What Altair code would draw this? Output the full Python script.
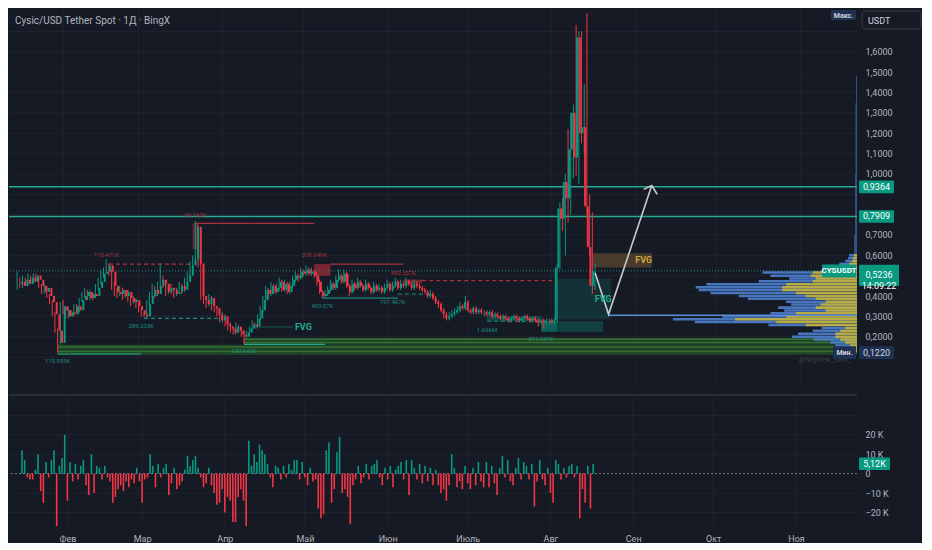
import altair as alt
import pandas as pd

# ---------------- style constants ----------------
BG = "#161a25"
GRID = "#20242f"
UP = "#089981"
DOWN = "#f23645"
TEAL = "#22ab94"
TEAL_D = "#1b8a7e"
RED_ANN = "#a8323d"
LABEL = "#b2b5be"
FONT = "Roboto"
W, H1, H2 = 848, 378, 128

# ---------------- data ----------------
title_text = "Cysic/USD Tether Spot · 1Д · BingX"
month_names = ["Янв", "Фев", "Мар", "Апр", "Май", "Июн", "Июль", "Авг", "Сен", "Окт", "Ноя", "Дек"]
month_ticks = ["2025-02-01", "2025-03-01", "2025-04-01", "2025-05-01", "2025-06-01",
               "2025-07-01", "2025-08-01", "2025-09-01", "2025-10-01", "2025-11-01"]
price_labels = [0.2, 0.3, 0.4, 0.6, 0.7, 1.0, 1.1, 1.2, 1.3, 1.4, 1.5, 1.6]
price_grid = [0.1, 0.2, 0.3, 0.4, 0.5, 0.6, 0.7, 0.8, 0.9, 1.0, 1.1, 1.2, 1.3, 1.4, 1.5, 1.6, 1.7]
delta_labels = [-20, -10, 0, 10, 20]
delta_grid = [-20, -10, 10, 20, 30]

first_day = "2025-01-15"
open_first = 0.46
close = [
    0.47, 0.45, 0.48, 0.46, 0.49, 0.47, 0.50, 0.48, 0.45, 0.42,
    0.44, 0.40, 0.37, 0.31, 0.23, 0.17, 0.35, 0.33, 0.30, 0.32,
    0.31, 0.35, 0.33, 0.38, 0.40, 0.42, 0.39, 0.41, 0.40, 0.44,
    0.47, 0.51, 0.52, 0.55, 0.52, 0.45, 0.42, 0.41, 0.43, 0.40,
    0.42, 0.39, 0.37, 0.38, 0.35, 0.33, 0.31, 0.30, 0.36, 0.40,
    0.43, 0.41, 0.45, 0.48, 0.46, 0.42, 0.44, 0.43, 0.41, 0.42,
    0.45, 0.43, 0.47, 0.50, 0.55, 0.58, 0.74, 0.56, 0.40, 0.38,
    0.36, 0.39, 0.35, 0.34, 0.31, 0.28, 0.30, 0.26, 0.25, 0.24,
    0.22, 0.25, 0.23, 0.21, 0.20, 0.22, 0.24, 0.26, 0.25, 0.29,
    0.33, 0.38, 0.43, 0.41, 0.45, 0.42, 0.44, 0.47, 0.43, 0.46,
    0.42, 0.45, 0.48, 0.50, 0.49, 0.52, 0.51, 0.53, 0.51, 0.52,
    0.50, 0.47, 0.42, 0.40, 0.41, 0.43, 0.46, 0.44, 0.48, 0.50,
    0.47, 0.51, 0.45, 0.42, 0.46, 0.44, 0.47, 0.45, 0.43, 0.46,
    0.44, 0.42, 0.45, 0.43, 0.44, 0.42, 0.44, 0.46, 0.43, 0.45,
    0.47, 0.44, 0.46, 0.45, 0.47, 0.46, 0.44, 0.46, 0.45, 0.44,
    0.43, 0.42, 0.40, 0.41, 0.39, 0.37, 0.36, 0.33, 0.31, 0.29,
    0.30, 0.31, 0.32, 0.33, 0.35, 0.34, 0.37, 0.33, 0.32, 0.34,
    0.32, 0.33, 0.32, 0.32, 0.31, 0.32, 0.30, 0.31, 0.30, 0.29,
    0.30, 0.29, 0.28, 0.29, 0.30, 0.29, 0.28, 0.29, 0.30, 0.29,
    0.28, 0.29, 0.28, 0.27, 0.28, 0.27, 0.28, 0.28, 0.27, 0.28,
    0.54, 0.83, 0.78, 0.96, 0.88, 1.12, 1.30, 1.08, 1.67, 1.20,
    1.23, 0.84, 0.64, 0.45, 0.5236,
]
high = [
    0.52, 0.49, 0.50, 0.49, 0.51, 0.50, 0.51, 0.51, 0.49, 0.46,
    0.46, 0.45, 0.41, 0.38, 0.32, 0.24, 0.37, 0.38, 0.34, 0.34,
    0.33, 0.36, 0.36, 0.39, 0.42, 0.44, 0.43, 0.43, 0.42, 0.46,
    0.49, 0.53, 0.54, 0.58, 0.56, 0.53, 0.47, 0.44, 0.45, 0.44,
    0.43, 0.43, 0.40, 0.40, 0.39, 0.36, 0.34, 0.32, 0.38, 0.42,
    0.46, 0.45, 0.47, 0.56, 0.50, 0.47, 0.46, 0.46, 0.44, 0.44,
    0.47, 0.46, 0.49, 0.52, 0.57, 0.60, 0.77, 0.75, 0.58, 0.42,
    0.40, 0.41, 0.40, 0.37, 0.35, 0.32, 0.32, 0.31, 0.28, 0.27,
    0.25, 0.27, 0.26, 0.24, 0.23, 0.23, 0.25, 0.28, 0.27, 0.31,
    0.35, 0.40, 0.45, 0.44, 0.47, 0.46, 0.46, 0.49, 0.48, 0.48,
    0.47, 0.47, 0.50, 0.52, 0.51, 0.54, 0.53, 0.55, 0.54, 0.54,
    0.53, 0.51, 0.48, 0.43, 0.43, 0.45, 0.48, 0.47, 0.50, 0.53,
    0.51, 0.53, 0.52, 0.46, 0.48, 0.47, 0.49, 0.48, 0.46, 0.48,
    0.47, 0.45, 0.47, 0.46, 0.46, 0.45, 0.46, 0.48, 0.47, 0.47,
    0.49, 0.48, 0.48, 0.47, 0.49, 0.48, 0.47, 0.48, 0.47, 0.46,
    0.45, 0.44, 0.43, 0.43, 0.42, 0.40, 0.38, 0.37, 0.34, 0.32,
    0.32, 0.33, 0.34, 0.35, 0.37, 0.36, 0.40, 0.38, 0.34, 0.35,
    0.35, 0.34, 0.34, 0.33, 0.33, 0.33, 0.33, 0.32, 0.32, 0.31,
    0.31, 0.31, 0.30, 0.30, 0.31, 0.31, 0.30, 0.30, 0.31, 0.31,
    0.30, 0.30, 0.30, 0.29, 0.29, 0.29, 0.29, 0.29, 0.29, 0.29,
    0.56, 0.86, 0.88, 1.00, 1.22, 1.30, 1.34, 1.73, 1.70, 1.70,
    1.44, 1.79, 0.90, 0.81, 0.56,
]
low = [
    0.43, 0.44, 0.44, 0.45, 0.45, 0.46, 0.46, 0.47, 0.44, 0.41,
    0.41, 0.39, 0.36, 0.30, 0.22, 0.122, 0.16, 0.31, 0.29, 0.29,
    0.30, 0.30, 0.32, 0.32, 0.37, 0.39, 0.38, 0.38, 0.38, 0.39,
    0.43, 0.46, 0.49, 0.51, 0.50, 0.43, 0.40, 0.39, 0.40, 0.38,
    0.39, 0.37, 0.35, 0.36, 0.34, 0.32, 0.30, 0.295, 0.29, 0.35,
    0.39, 0.39, 0.40, 0.44, 0.44, 0.40, 0.41, 0.41, 0.39, 0.40,
    0.41, 0.41, 0.42, 0.46, 0.49, 0.54, 0.57, 0.54, 0.38, 0.36,
    0.34, 0.35, 0.33, 0.32, 0.30, 0.27, 0.27, 0.25, 0.23, 0.22,
    0.21, 0.21, 0.22, 0.20, 0.165, 0.19, 0.21, 0.23, 0.24, 0.24,
    0.28, 0.32, 0.37, 0.39, 0.40, 0.41, 0.41, 0.43, 0.42, 0.42,
    0.41, 0.41, 0.44, 0.47, 0.47, 0.48, 0.50, 0.50, 0.50, 0.50,
    0.49, 0.45, 0.41, 0.39, 0.39, 0.40, 0.42, 0.43, 0.43, 0.47,
    0.46, 0.46, 0.44, 0.40, 0.41, 0.43, 0.43, 0.44, 0.42, 0.42,
    0.43, 0.41, 0.41, 0.42, 0.42, 0.41, 0.41, 0.43, 0.42, 0.42,
    0.44, 0.43, 0.43, 0.44, 0.44, 0.45, 0.43, 0.43, 0.44, 0.43,
    0.42, 0.41, 0.39, 0.39, 0.38, 0.36, 0.34, 0.32, 0.29, 0.28,
    0.28, 0.29, 0.30, 0.31, 0.32, 0.33, 0.33, 0.32, 0.31, 0.31,
    0.31, 0.31, 0.31, 0.30, 0.30, 0.30, 0.29, 0.29, 0.29, 0.28,
    0.28, 0.28, 0.27, 0.27, 0.28, 0.28, 0.27, 0.27, 0.28, 0.28,
    0.27, 0.27, 0.27, 0.25, 0.26, 0.24, 0.26, 0.26, 0.26, 0.26,
    0.27, 0.53, 0.72, 0.60, 0.76, 0.80, 0.98, 0.99, 0.95, 1.15,
    1.10, 0.80, 0.60, 0.41, 0.43,
]
delta_k = [
    12, 7, -2, -3, -3, 2, 10, -9, -15, 6,
    -2, 7, 12, -27, 4, 8, 20, -14, 6, -4,
    5, -3, 4, 7, -6, -11, 10, -10, 4, 3,
    -3, 4, -2, -4, -15, -12, -8, -6, -9, -4,
    -7, -3, -5, 3, -4, -15, -3, -2, 10, 4,
    -7, 5, -2, 3, 5, -11, -5, 3, -8, -6,
    -4, 2, 9, 4, 7, 9, 3, -2, -7, -5,
    3, -6, -10, -16, -15, -8, -20, -12, -14, -25,
    -25, -12, -8, -14, -27, 17, 4, 10, 6, 15,
    12, 10, 5, -2, -7, 4, 3, -3, 4, -2,
    5, 2, 7, 7, -3, 6, -2, -6, 3, -4,
    -3, -18, -23, -21, 12, 16, -15, -8, 11, 19,
    -10, -8, -12, -26, -6, -3, 4, -5, -2, 5,
    -3, 4, 5, 7, -2, -6, 3, -3, 4, -7,
    2, 4, 6, -3, 7, -11, 7, 3, -3, 5,
    -5, 4, -4, 3, -6, 2, -6, -10, -8, -14,
    -6, 10, 3, -7, -4, -8, 4, -5, -8, 3,
    -6, 6, -4, -7, 6, -7, 4, -5, -11, 3,
    9, -2, 7, -4, -6, 3, 8, -3, 6, 4,
    -3, 5, -17, -4, 7, -3, -6, 3, -10, -15,
    7, 5, -3, 3, -2, 4, 5, -2, 4, -23,
    -8, -15, 4, -18, 5.12,
]

# volume profile (row centre price, total volume, buy volume) in K units
vp_price = [0.129, 0.143, 0.157, 0.172, 0.186, 0.200, 0.215, 0.229, 0.243, 0.258,
            0.272, 0.286, 0.300, 0.315, 0.329, 0.343, 0.358, 0.372, 0.386, 0.400,
            0.415, 0.429, 0.443, 0.458, 0.472, 0.486, 0.500, 0.515, 0.529, 0.543,
            0.558, 0.572, 0.586, 0.600]
vp_total = [8, 17, 22, 27, 44, 66, 60, 45, 36, 90,
            165, 187, 137, 88, 74, 80, 67, 72, 111, 120,
            149, 161, 164, 153, 100, 69, 88, 96, 30, 22,
            18, 12, 9, 8]
vp_buy = [3, 6, 7, 12, 17, 22, 22, 17, 12, 52,
          82, 124, 72, 62, 32, 42, 37, 32, 42, 52,
          62, 76, 76, 72, 45, 42, 47, 45, 12, 8,
          8, 5, 4, 3]
vp_upper_lo = [0.607, 0.70, 0.85, 1.00, 1.20, 1.35]
vp_upper_hi = [0.700, 0.85, 1.00, 1.20, 1.35, 1.48]
vp_upper_vol = [3, 2, 2, 1.5, 1.5, 1]

levels = [0.9364, 0.7909]
last_price = 0.5236

# annotation segments
seg_start = ["2025-02-18", "2025-03-22", "2025-05-11", "2025-06-14",
             "2025-03-03", "2025-05-08", "2025-06-05", "2025-07-08",
             "2025-01-30", "2025-04-09", "2025-04-13", "2025-08-22"]
seg_end = ["2025-03-21", "2025-05-05", "2025-06-07", "2025-08-03",
           "2025-04-01", "2025-06-05", "2025-06-18", "2025-07-28",
           "2025-03-02", "2025-05-09", "2025-04-27", "2025-11-22"]
seg_price = [0.557, 0.757, 0.557, 0.476,
             0.290, 0.390, 0.410, 0.276,
             0.115, 0.162, 0.248, 0.305]
seg_color = [RED_ANN, RED_ANN, RED_ANN, RED_ANN,
             TEAL_D, TEAL_D, TEAL_D, TEAL_D,
             TEAL, TEAL, "#1d5f56", "#5b8bd6"]
seg_dash = ["dashed", "solid", "solid", "dashed",
            "dashed", "solid", "dashed", "dashed",
            "solid", "solid", "solid", "solid"]
seg_width = [1.2, 1.2, 1.2, 1.2, 1.2, 1.2, 1.2, 1.2, 1.2, 1.2, 1.0, 1.5]

# boxes
box_start = ["2025-03-21", "2025-05-05", "2025-06-07", "2025-07-08", "2025-07-28",
             "2025-08-03", "2025-08-03", "2025-08-16"]
box_end = ["2025-03-23", "2025-05-11", "2025-06-14", "2025-07-28", "2025-08-03",
           "2025-08-20", "2025-08-23", "2025-09-07"]
box_lo = [0.630, 0.500, 0.462, 0.276, 0.224, 0.224, 0.286, 0.540]
box_hi = [0.757, 0.557, 0.481, 0.300, 0.276, 0.276, 0.486, 0.610]
box_fill = [DOWN, DOWN, DOWN, UP, UP, UP, UP, "#5a4630"]
box_op = [0.40, 0.45, 0.45, 0.30, 0.55, 0.30, 0.18, 0.75]

# green demand zones and stripes
zone_start = ["2025-01-30", "2025-04-09"]
zone_lo = [0.110, 0.160]
zone_hi = [0.160, 0.195]
stripe_start = ["2025-04-09", "2025-04-09", "2025-01-30", "2025-01-30"]
stripe_price = [0.188, 0.172, 0.150, 0.128]
domain_start = "2025-01-12"
domain_end = "2025-11-22"

# projected path and arrow head
path_date = ["2025-08-17", "2025-08-22", "2025-09-07"]
path_price = [0.514, 0.310, 0.943]
arrow_date = ["2025-09-04", "2025-09-07", "2025-09-09"]
arrow_price = [0.924, 0.943, 0.900]

# small labels
lab_text = ["110.471K", "96.163K", "378.049K", "440.557K", "389.233K", "115.955K",
            "130.642K", "409.07K", "197.467K", "1.666M", "371.931K"]
lab_date = ["2025-02-17", "2025-03-22", "2025-05-05", "2025-06-07", "2025-03-02", "2025-01-30",
            "2025-04-09", "2025-05-08", "2025-06-03", "2025-07-08", "2025-07-28"]
lab_price = [0.600, 0.800, 0.600, 0.514, 0.252, 0.081, 0.128, 0.352, 0.371, 0.233, 0.190]
lab_color = [RED_ANN] * 4 + [TEAL_D] * 7

fvg_text = ["FVG", "FVG", "FVG"]
fvg_date = ["2025-05-01", "2025-08-20", "2025-09-04"]
fvg_price = [0.248, 0.385, 0.575]
fvg_color = [TEAL, TEAL, "#c9a53a"]

# ---------------- frames ----------------
dates = pd.date_range(first_day, periods=len(close), freq="D")
opens = [open_first] + close[:-1]
candles = pd.DataFrame({
    "date": dates, "open": opens, "high": high, "low": low, "close": close,
    "dir": ["up" if c >= o else "down" for o, c in zip(opens, close)],
})
deltas = pd.DataFrame({
    "date": dates, "delta": delta_k,
    "dir": ["up" if d >= 0 else "down" for d in delta_k],
})
months_df = pd.DataFrame({"d": pd.to_datetime(month_ticks)})

xs = alt.Scale(domain=[alt.DateTime(year=2025, month=1, date=12),
                       alt.DateTime(year=2025, month=11, date=22)])
ys = alt.Scale(domain=[-0.047, 1.81], nice=False, zero=False)
yd = alt.Scale(domain=[-27, 39], nice=False, zero=False)
dir_color = alt.Color("dir:N", scale=alt.Scale(domain=["up", "down"], range=[UP, DOWN]), legend=None)

YAXIS = alt.Axis(orient="right", values=price_labels, grid=False, ticks=False, domain=False,
                 labelExpr="replace(format(datum.value, '.4f'), '.', ',')",
                 labelColor=LABEL, labelFontSize=9, labelFont=FONT, labelPadding=8, title=None)
month_expr = "[" + ",".join("'%s'" % m for m in month_names) + "][month(datum.value)]"
XAXIS_B = alt.Axis(values=[alt.DateTime(year=2025, month=m, date=1) for m in range(2, 12)],
                   labelExpr=month_expr, grid=False, ticks=False, domain=False,
                   labelColor=LABEL, labelFontSize=9, labelFont=FONT, labelPadding=8, title=None)
YAXIS_B = alt.Axis(orient="right", values=delta_labels, grid=False, ticks=False, domain=False,
                   labelExpr="datum.value == 0 ? '0' : (datum.value < 0 ? '−' : '') + abs(datum.value) + ' K'",
                   labelColor=LABEL, labelFontSize=9, labelFont=FONT, labelPadding=8, title=None)


def X(f):
    return alt.X(f, type="temporal", scale=xs, axis=None)


def Y(f):
    return alt.Y(f, type="quantitative", scale=ys, axis=YAXIS)


def XB(f):
    return alt.X(f, type="temporal", scale=xs, axis=XAXIS_B)


def YB(f):
    return alt.Y(f, type="quantitative", scale=yd, axis=YAXIS_B)


# ---------------- main panel ----------------
hgrid = alt.Chart(pd.DataFrame({"p": price_grid})).mark_rule(color=GRID, strokeWidth=1).encode(y=Y("p"))
vgrid = alt.Chart(months_df).mark_rule(color=GRID, strokeWidth=1).encode(x=X("d"))

zones = alt.Chart(pd.DataFrame({
    "s": pd.to_datetime(zone_start), "e": pd.to_datetime([domain_end] * len(zone_start)),
    "lo": zone_lo, "hi": zone_hi})).mark_rect(color="#1f4a26", opacity=0.85).encode(
    x=X("s"), x2="e", y=Y("lo"), y2="hi")
stripes = alt.Chart(pd.DataFrame({
    "s": pd.to_datetime(stripe_start), "e": pd.to_datetime([domain_end] * len(stripe_start)),
    "p": stripe_price})).mark_rule(color="#3f7a3c", strokeWidth=1.5, opacity=0.8).encode(
    x=X("s"), x2="e", y=Y("p"))

vps = alt.Scale(domain=[0, 862], reverse=True)
vp_df = pd.DataFrame({"p": vp_price, "tot": vp_total, "buy": vp_buy})
vp_blue = alt.Chart(vp_df).transform_calculate(
    lo="datum.p - 0.0062", hi="datum.p + 0.0062", z="0").mark_rect(
    color="#4d7fcf", opacity=0.9).encode(
    x=alt.X("z:Q", scale=vps, axis=None), x2="tot:Q", y=Y("lo:Q"), y2="hi:Q")
vp_yellow = alt.Chart(vp_df).transform_calculate(
    lo="datum.p - 0.0062", hi="datum.p + 0.0062", z="0").mark_rect(
    color="#c4b23a", opacity=0.9).encode(
    x=alt.X("z:Q", scale=vps, axis=None), x2="buy:Q", y=Y("lo:Q"), y2="hi:Q")
vp_up = alt.Chart(pd.DataFrame({"lo": vp_upper_lo, "hi": vp_upper_hi, "v": vp_upper_vol})).transform_calculate(
    z="0").mark_rect(color="#4d7fcf", opacity=0.55).encode(
    x=alt.X("z:Q", scale=vps, axis=None), x2="v:Q", y=Y("lo:Q"), y2="hi:Q")

level_lines = alt.Chart(pd.DataFrame({"p": levels})).mark_rule(color=TEAL, strokeWidth=1.5).encode(y=Y("p"))
last_line = alt.Chart(pd.DataFrame({"p": [last_price]})).mark_rule(
    color=TEAL, strokeWidth=1, strokeDash=[1, 2], opacity=0.8).encode(y=Y("p"))

segs = alt.Chart(pd.DataFrame({
    "s": pd.to_datetime(seg_start), "e": pd.to_datetime(seg_end), "p": seg_price,
    "c": seg_color, "dash": seg_dash, "w": seg_width})).mark_rule().encode(
    x=X("s"), x2="e", y=Y("p"),
    color=alt.Color("c:N", scale=None),
    strokeWidth=alt.StrokeWidth("w:Q", scale=None),
    strokeDash=alt.StrokeDash("dash:N", scale=alt.Scale(domain=["solid", "dashed"], range=[[1, 0], [4, 3]]), legend=None))

boxes = alt.Chart(pd.DataFrame({
    "s": pd.to_datetime(box_start), "e": pd.to_datetime(box_end), "lo": box_lo, "hi": box_hi,
    "c": box_fill, "o": box_op})).mark_rect().encode(
    x=X("s"), x2="e", y=Y("lo"), y2="hi",
    color=alt.Color("c:N", scale=None), opacity=alt.Opacity("o:Q", scale=None))

wicks = alt.Chart(candles).mark_rule(strokeWidth=1).encode(x=X("date"), y=Y("low"), y2="high", color=dir_color)
bodies = alt.Chart(candles).mark_bar(size=2).encode(x=X("date"), y=Y("open"), y2="close", color=dir_color)

path = alt.Chart(pd.DataFrame({"d": pd.to_datetime(path_date), "p": path_price, "o": [0, 1, 2]})).mark_line(
    color="#c8cad0", strokeWidth=1.6).encode(x=X("d"), y=Y("p"), order="o:Q")
arrow = alt.Chart(pd.DataFrame({"d": pd.to_datetime(arrow_date), "p": arrow_price, "o": [0, 1, 2]})).mark_line(
    color="#c8cad0", strokeWidth=1.6).encode(x=X("d"), y=Y("p"), order="o:Q")

labels = alt.Chart(pd.DataFrame({
    "t": lab_text, "d": pd.to_datetime(lab_date), "p": lab_price, "c": lab_color})).mark_text(
    fontSize=6, font=FONT).encode(x=X("d"), y=Y("p"), text="t:N", color=alt.Color("c:N", scale=None))
fvg = alt.Chart(pd.DataFrame({
    "t": fvg_text, "d": pd.to_datetime(fvg_date), "p": fvg_price, "c": fvg_color})).mark_text(
    fontSize=9, font=FONT, fontWeight="bold").encode(
    x=X("d"), y=Y("p"), text="t:N", color=alt.Color("c:N", scale=None))

watermark = alt.Chart(pd.DataFrame({"t": ["@Nephew_Sam_"], "p": [0.088]})).mark_text(
    fontSize=7, font=FONT, color="#3b3f4a", align="right").encode(x=alt.value(W - 6), y=Y("p"), text="t:N")

# right-side price tags
tag_price = [0.9364, 0.7909]
tag_df = pd.DataFrame({"p": tag_price, "lo": [v - 0.031 for v in tag_price], "hi": [v + 0.031 for v in tag_price],
                       "t": ["0,9364", "0,7909"]})
tag_rect = alt.Chart(tag_df).mark_rect(color=UP, clip=False, cornerRadius=1).encode(
    x=alt.value(W + 2), x2=alt.value(W + 37), y=Y("lo"), y2="hi")
tag_text = alt.Chart(tag_df).mark_text(color="white", fontSize=9, font=FONT, clip=False).encode(
    x=alt.value(W + 19.5), y=Y("p"), text="t:N")

last_df = pd.DataFrame({"p": [last_price], "lo": [last_price - 0.075], "hi": [last_price + 0.03],
                        "lo2": [last_price - 0.031], "hi2": [last_price + 0.031],
                        "t": ["0,5236\n14:09:22"], "mid": [last_price - 0.022]})
last_rect = alt.Chart(last_df).mark_rect(color=UP, clip=False, cornerRadius=1).encode(
    x=alt.value(W + 2), x2=alt.value(W + 42), y=Y("lo"), y2="hi")
last_text = alt.Chart(last_df).mark_text(color="white", fontSize=9, font=FONT, lineBreak="\n",
                                         clip=False, lineHeight=11).encode(
    x=alt.value(W + 22), y=Y("mid"), text="t:N")
sym_rect = alt.Chart(last_df).mark_rect(color=UP, clip=False, cornerRadius=1).encode(
    x=alt.value(W - 35), x2=alt.value(W - 1), y=Y("lo2"), y2="hi2")
sym_text = alt.Chart(pd.DataFrame({"p": [last_price], "t": ["CYSUSDT"]})).mark_text(
    color="white", fontSize=8, font=FONT, fontWeight="bold", clip=False).encode(
    x=alt.value(W - 18), y=Y("p"), text="t:N")

min_df = pd.DataFrame({"p": [0.122], "lo": [0.091], "hi": [0.153], "t": ["0,1220"], "m": ["Мин."]})
min_rect = alt.Chart(min_df).mark_rect(color="#1e3152", clip=False, cornerRadius=1).encode(
    x=alt.value(W + 2), x2=alt.value(W + 37), y=Y("lo"), y2="hi")
min_text = alt.Chart(min_df).mark_text(color="#d1d4dc", fontSize=9, font=FONT, clip=False).encode(
    x=alt.value(W + 19.5), y=Y("p"), text="t:N")
min_rect2 = alt.Chart(min_df).mark_rect(color="#1e3152", clip=False, cornerRadius=1).encode(
    x=alt.value(W - 24), x2=alt.value(W - 1), y=Y("lo"), y2="hi")
min_text2 = alt.Chart(min_df).mark_text(color="#d1d4dc", fontSize=7, font=FONT, fontWeight="bold",
                                        clip=False).encode(x=alt.value(W - 12.5), y=Y("p"), text="m:N")

max_df = pd.DataFrame({"t": ["Макс."]})
max_rect = alt.Chart(max_df).mark_rect(color="#1e3152", clip=False, cornerRadius=1).encode(
    x=alt.value(W - 26), x2=alt.value(W - 1), y=alt.value(1), y2=alt.value(11))
max_text = alt.Chart(max_df).mark_text(color="#d1d4dc", fontSize=7, font=FONT, fontWeight="bold",
                                       clip=False).encode(x=alt.value(W - 13.5), y=alt.value(6.5), text="t:N")

cur_df = pd.DataFrame({"t": ["USDT"]})
cur_rect = alt.Chart(cur_df).mark_rect(color=BG, stroke="#363a45", strokeWidth=1, cornerRadius=3,
                                       clip=False).encode(
    x=alt.value(W + 5), x2=alt.value(W + 64), y=alt.value(2), y2=alt.value(20))
cur_text = alt.Chart(cur_df).mark_text(color="#d1d4dc", fontSize=9, font=FONT, align="left",
                                       clip=False).encode(x=alt.value(W + 11), y=alt.value(11.5), text="t:N")

title = alt.Chart(pd.DataFrame({"t": [title_text]})).mark_text(
    color=LABEL, fontSize=10, font=FONT, align="left").encode(
    x=alt.value(6), y=alt.value(12), text="t:N")

main = alt.layer(
    hgrid, vgrid, zones, stripes, vp_blue, vp_yellow, vp_up, level_lines, last_line,
    segs, boxes, wicks, bodies, path, arrow, labels, fvg, watermark,
    tag_rect, tag_text, last_rect, last_text, sym_rect, sym_text,
    min_rect, min_text, min_rect2, min_text2, max_rect, max_text, cur_rect, cur_text, title,
).resolve_scale(x="independent").properties(width=W, height=H1)

# ---------------- delta panel ----------------
d_vgrid = alt.Chart(months_df).mark_rule(color=GRID).encode(x=XB("d"))
d_hgrid = alt.Chart(pd.DataFrame({"v": delta_grid})).mark_rule(color=GRID).encode(y=YB("v"))
zero_line = alt.Chart(pd.DataFrame({"v": [0]})).mark_rule(color="#787b86", strokeDash=[2, 2]).encode(y=YB("v"))
d_bars = alt.Chart(deltas).mark_bar(size=1.6).encode(
    x=XB("date"), y=YB("delta"), y2=alt.datum(0), color=dir_color)
dtag_df = pd.DataFrame({"v": [5.12], "lo": [5.12 - 3.2], "hi": [5.12 + 3.2], "t": ["5,12K"]})
dtag_rect = alt.Chart(dtag_df).mark_rect(color=UP, clip=False, cornerRadius=1).encode(
    x=alt.value(W + 2), x2=alt.value(W + 33), y=YB("lo"), y2="hi")
dtag_text = alt.Chart(dtag_df).mark_text(color="white", fontSize=9, font=FONT, clip=False).encode(
    x=alt.value(W + 17.5), y=YB("v"), text="t:N")
sep = alt.Chart(pd.DataFrame({"v": [0]})).mark_rule(color="#2a2e39", strokeWidth=2).encode(y=alt.value(-3))

bottom = alt.layer(d_vgrid, d_hgrid, zero_line, d_bars, dtag_rect, dtag_text, sep).properties(width=W, height=H2)

chart = alt.vconcat(main, bottom, spacing=6).resolve_scale(x="independent", y="independent").properties(
    padding={"left": 0, "top": 0, "right": 0, "bottom": 0}
).configure(background=BG).configure_view(stroke=None)

chart.save("out.html", embed_options={"renderer": "svg", "actions": False})
